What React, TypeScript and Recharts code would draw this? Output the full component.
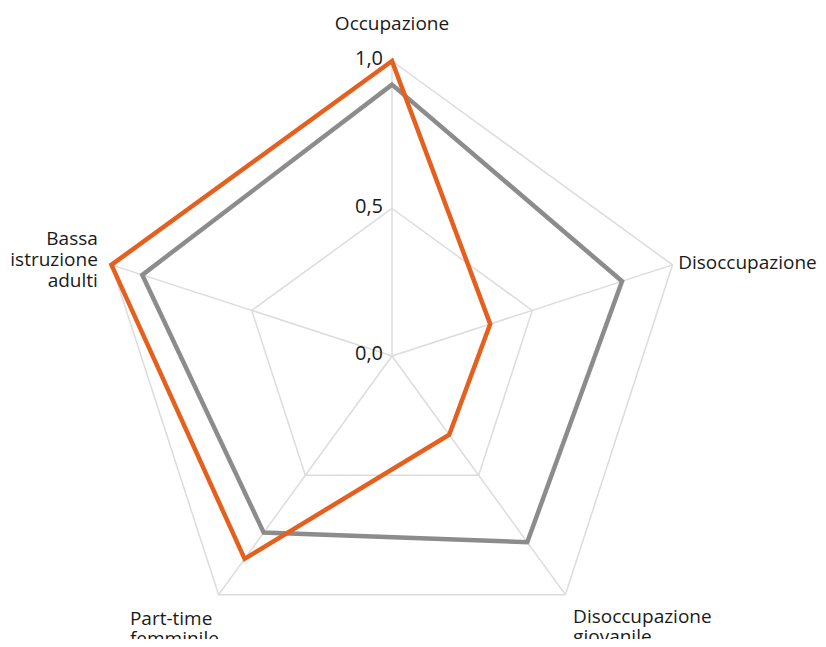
import React from "react";
import { RadarChart, Radar, PolarGrid, PolarAngleAxis, PolarRadiusAxis } from "recharts";

const categorie = [
  "Occupazione",
  "Disoccupazione",
  "Disoccupazione giovanile",
  "Part-time femminile",
  "Bassa istruzione adulti",
];
const serieArancione = [1.0, 0.35, 0.33, 0.85, 1.0];
const serieGrigia = [0.92, 0.82, 0.78, 0.74, 0.89];
const tickRaggio = [0, 0.5, 1];

const etichette: Record<string, string[]> = {
  Occupazione: ["Occupazione"],
  Disoccupazione: ["Disoccupazione"],
  "Disoccupazione giovanile": ["Disoccupazione", "giovanile"],
  "Part-time femminile": ["Part-time", "femminile"],
  "Bassa istruzione adulti": ["Bassa", "istruzione", "adulti"],
};

// placement of each category label relative to its tick point
const posEtichette: Record<string, { anchor: "start" | "middle" | "end"; dx: number; dy: number; lh: number }> = {
  Occupazione: { anchor: "middle", dx: 0, dy: -23, lh: 21 },
  Disoccupazione: { anchor: "start", dx: -2, dy: 7, lh: 21 },
  "Disoccupazione giovanile": { anchor: "start", dx: 3, dy: 22, lh: 20 },
  "Part-time femminile": { anchor: "start", dx: -84, dy: 24, lh: 20 },
  "Bassa istruzione adulti": { anchor: "end", dx: -6, dy: -17, lh: 21 },
};

const FONT = "'Open Sans', sans-serif";

const data = categorie.map((c, i) => ({
  categoria: c,
  arancione: serieArancione[i],
  grigia: serieGrigia[i],
}));

const AngleTick = (props: any) => {
  const { x, y, payload } = props;
  const nome = payload.value as string;
  const righe = etichette[nome] ?? [nome];
  const pos = posEtichette[nome];
  return (
    <g>
      {righe.map((r, i) => (
        <text
          key={i}
          x={x + pos.dx}
          y={y + pos.dy + i * pos.lh}
          textAnchor={pos.anchor}
          fontFamily={FONT}
          fontSize={19}
          fill="#1a1a1a"
        >
          {r}
        </text>
      ))}
    </g>
  );
};

const RadiusTick = (props: any) => {
  const { x, y, payload } = props;
  return (
    <text x={x - 9} y={y + 4} textAnchor="end" fontFamily={FONT} fontSize={20} fill="#1a1a1a">
      {Number(payload.value).toFixed(1).replace(".", ",")}
    </text>
  );
};

export default function App() {
  // negative margins cancel the body margin so the chart fills the page
  return (
    <div style={{ width: 826, height: 647, margin: -8 }}>
      <RadarChart
        width={826}
        height={647}
        data={data}
        cx={392}
        cy={356}
        outerRadius={295}
        startAngle={90}
        endAngle={-270}
        margin={{ top: 0, right: 0, bottom: 0, left: 0 }}
      >
        <PolarGrid gridType="polygon" stroke="#dcdcdc" strokeWidth={1.5} />
        <PolarAngleAxis dataKey="categoria" tick={<AngleTick />} tickLine={false} axisLine={false} />
        <PolarRadiusAxis
          angle={90}
          domain={[0, 1]}
          ticks={tickRaggio as any}
          tickCount={3}
          axisLine={false}
          tickLine={false}
          tick={<RadiusTick />}
        />
        <Radar
          dataKey="grigia"
          stroke="#8c8c8c"
          strokeWidth={4.5}
          fill="none"
          fillOpacity={0}
          dot={false}
          isAnimationActive={false}
        />
        <Radar
          dataKey="arancione"
          stroke="#e5601e"
          strokeWidth={4.5}
          fill="none"
          fillOpacity={0}
          dot={false}
          isAnimationActive={false}
        />
      </RadarChart>
    </div>
  );
}
